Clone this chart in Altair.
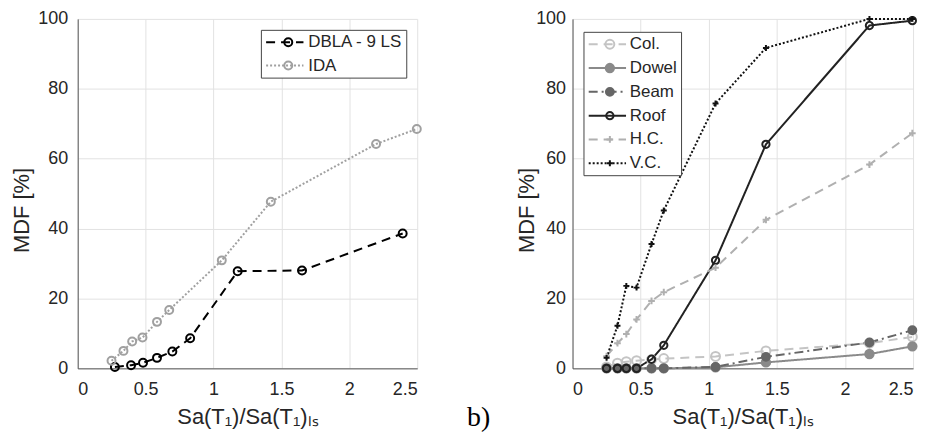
import altair as alt
import pandas as pd

# ---------------- data ----------------
left_names = ["DBLA - 9 LS", "IDA"]
dbla_x = [0.274, 0.393, 0.481, 0.584, 0.697, 0.828, 1.178, 1.652, 2.393]
dbla_y = [0.4, 0.9, 1.6, 3.0, 4.8, 8.6, 27.8, 28.0, 38.6]
ida_x = [0.249, 0.337, 0.401, 0.477, 0.584, 0.674, 1.061, 1.422, 2.197, 2.497]
ida_y = [2.2, 5.0, 7.7, 8.8, 13.3, 16.7, 30.9, 47.7, 64.2, 68.5]

right_names = ["Col.", "Dowel", "Beam", "Roof", "H.C.", "V.C."]
r_x = [0.25, 0.33, 0.395, 0.47, 0.58, 0.67, 1.05, 1.42, 2.18, 2.495]
col_y = [0.4, 1.5, 1.9, 2.2, 2.5, 2.8, 3.4, 5.0, 7.2, 9.0]
dowel_y = [0, 0, 0, 0, 0, 0, 0.3, 1.7, 4.1, 6.3]
beam_y = [0, 0, 0, 0, 0, 0, 0.4, 3.3, 7.4, 10.9]
roof_y = [0, 0, 0, 0, 2.6, 6.6, 30.9, 64.1, 98.1, 99.5]
hc_y = [3.5, 7.2, 9.8, 14.0, 19.3, 21.8, 28.8, 42.5, 58.3, 67.3]
vc_y = [3.0, 12.2, 23.6, 23.1, 35.6, 45.2, 75.8, 91.7, 100, 100]

x_ticks = [0, 0.5, 1, 1.5, 2, 2.5]
y_ticks = [0, 20, 40, 60, 80, 100]

# ---------------- styles ----------------
FONT = "Liberation Sans"
TXT = "#262626"
PLUS = "M-1,0H1M0,-1V1"
LINE_SYM = "M-2.5,0H2.5"

left_colors = ["#000000", "#a0a0a0"]
left_dash = [[9, 6], [2, 2]]
left_shapes = ["circle", "circle"]
left_fills = ["transparent", "transparent"]
left_sizes = [64, 64]

right_colors = ["#c4c4c4", "#8a8a8a", "#666666", "#222222", "#b0b0b0", "#111111"]
right_dash = [[9, 6], [1, 0], [9, 4, 2, 4], [1, 0], [9, 6], [2, 2]]
right_shapes = ["circle", "circle", "circle", "circle", PLUS, PLUS]
right_fills = ["transparent", "#8a8a8a", "#666666", "transparent", "transparent", "transparent"]
right_sizes = [80, 36, 36, 100, 100, 100]


def frame(series):
    rows = []
    for name, xs, ys in series:
        for xv, yv in zip(xs, ys):
            rows.append({"series": name, "sp": name + " ", "x": xv, "y": yv})
    return pd.DataFrame(rows)


left_df = frame([(left_names[0], dbla_x, dbla_y), (left_names[1], ida_x, ida_y)])
right_df = frame([
    (right_names[0], r_x, col_y), (right_names[1], r_x, dowel_y),
    (right_names[2], r_x, beam_y), (right_names[3], r_x, roof_y),
    (right_names[4], r_x, hc_y), (right_names[5], r_x, vc_y),
])

XTITLE = "Sa(T\u2081)/Sa(T\u2081)\u2097\u209b"
CH = ["stroke", "strokeDash", "color", "fill", "shape", "size"]


def panel(df, names, colors, dashes, shapes, fills, sizes, width,
          lx, ly, lab_pad, title_x, row_pad, label_offset, pt_offset, extra=None):
    names_p = [n + " " for n in names]
    xenc = alt.X("x:Q", scale=alt.Scale(domain=[0, 2.5], nice=False, zero=False),
                 axis=alt.Axis(values=x_ticks, format="~g", title=XTITLE,
                               labelPadding=12, titlePadding=8))
    yenc = alt.Y("y:Q", scale=alt.Scale(domain=[0, 100], nice=False),
                 axis=alt.Axis(values=y_ticks, title="MDF [%]",
                               labelPadding=lab_pad, titleX=title_x, titleY=192))
    leg_line = alt.Legend(
        title=None, orient="none", legendX=lx, legendY=ly,
        symbolType=LINE_SYM, symbolSize=225, symbolStrokeWidth=2,
        symbolOffset=11.5, symbolFillColor="transparent",
        labelFont=FONT, labelFontSize=17, labelColor=TXT, labelOffset=label_offset,
        labelLimit=400, padding=4, rowPadding=row_pad,
        strokeColor="#444444", fillColor="white", zindex=1,
    )
    leg_pt = alt.Legend(
        title=None, orient="none", legendX=lx, legendY=ly,
        symbolStrokeWidth=2, symbolOffset=pt_offset,
        labelFont=FONT, labelFontSize=17, labelExpr="'.'",
        labelOpacity=0, labelOffset=0, labelLimit=400,
        padding=4, rowPadding=row_pad, zindex=2,
    )
    line = alt.Chart(df).mark_line(strokeWidth=2).encode(
        x=xenc, y=yenc,
        stroke=alt.Stroke("series:N", scale=alt.Scale(domain=names, range=colors), legend=leg_line),
        strokeDash=alt.StrokeDash("series:N", scale=alt.Scale(domain=names, range=dashes), legend=leg_line),
    )
    pts = alt.Chart(df).mark_point(filled=False, strokeWidth=2, opacity=1).encode(
        x=xenc, y=yenc,
        color=alt.Color("sp:N", scale=alt.Scale(domain=names_p, range=colors), legend=leg_pt),
        fill=alt.Fill("sp:N", scale=alt.Scale(domain=names_p, range=fills), legend=leg_pt),
        shape=alt.Shape("sp:N", scale=alt.Scale(domain=names_p, range=shapes), legend=leg_pt),
        size=alt.Size("sp:N", scale=alt.Scale(domain=names_p, range=sizes), legend=leg_pt),
    )
    layers = [line, pts]
    if extra is not None:
        layers.append(extra)
    return alt.layer(*layers).properties(width=width, height=351)


b_label = alt.Chart(pd.DataFrame({"t": ["b)"]})).mark_text(
    font="Liberation Serif", fontSize=28, align="left", baseline="alphabetic", color="#000000"
).encode(text="t:N", x=alt.value(391), y=alt.value(409))

left = panel(left_df, left_names, left_colors, left_dash, left_shapes, left_fills,
             left_sizes, 341, 184, 11, 10, -44, 5.4, 15, 15, extra=b_label)
right = panel(right_df, right_names, right_colors, right_dash, right_shapes, right_fills,
              right_sizes, 342, 11, 13, 7, -34, 5.9, 14, 14)

chart = alt.hconcat(left, right, spacing=156, bounds="flush").resolve_scale(
    **{c: "independent" for c in CH}
).resolve_legend(
    **{c: "independent" for c in CH}
).properties(
    padding={"left": 3, "top": 1, "right": 0, "bottom": 0},
).configure_view(stroke=None).configure_axis(
    labelFont=FONT, labelFontSize=18, labelColor=TXT,
    titleFont=FONT, titleFontSize=22, titleFontWeight="normal", titleColor=TXT,
    grid=True, gridColor="#e2e2e2", gridWidth=1,
    ticks=False, domainColor="#555555", domainWidth=1,
)

chart.save("out.html", embed_options={"renderer": "svg", "actions": False})
